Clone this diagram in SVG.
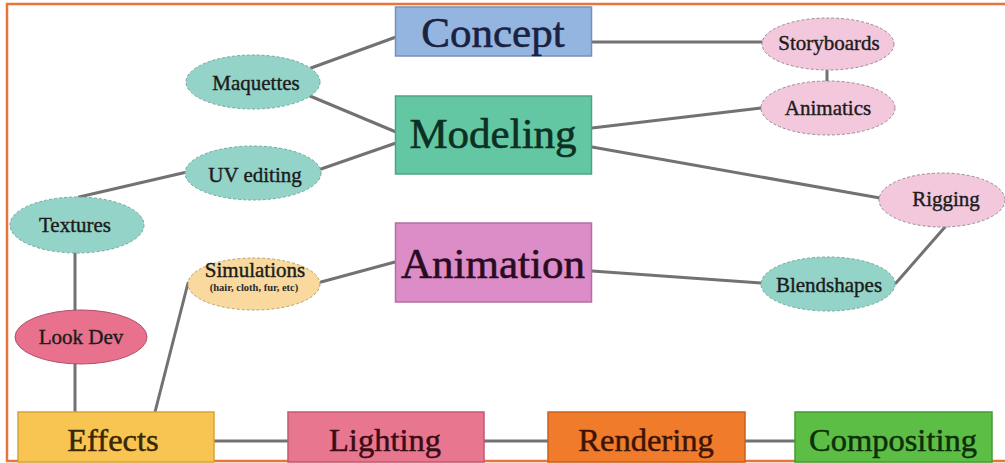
<svg xmlns="http://www.w3.org/2000/svg" width="1005" height="463" viewBox="0 0 1005 463">
<defs>
<style>
  .box { stroke-width: 1.5; }
  .teal { fill: #94d3c8; stroke: #6fa89e; stroke-width: 1; stroke-dasharray: 3 2; }
  .pink { fill: #f3c8dd; stroke: #9a8a92; stroke-width: 1; stroke-dasharray: 3 2; }
  .conn line { stroke: #727272; stroke-width: 3; stroke-linecap: round; }
  .big { font-size: 43px; stroke-width: 0.6; }
  .mid { font-size: 32.5px; stroke-width: 0.5; }
  .lbl { font-size: 21px; fill: #1c1c1c; stroke: #1c1c1c; stroke-width: 0.4; }
</style>
</defs>
<rect x="0" y="0" width="1005" height="463" fill="#ffffff"/>
<path d="M1005,4 H7 V461 H1005" fill="none" stroke="#e8763a" stroke-width="2.5"/>

<g id="connectors" class="conn">
  <line x1="311" y1="68" x2="396" y2="37"/>
  <line x1="310" y1="96" x2="396" y2="132"/>
  <line x1="321" y1="169" x2="396" y2="143"/>
  <line x1="187" y1="172" x2="79" y2="197"/>
  <line x1="592" y1="42" x2="762" y2="42"/>
  <line x1="827" y1="70" x2="827" y2="82"/>
  <line x1="592" y1="128" x2="761" y2="108"/>
  <line x1="592" y1="147" x2="880" y2="198"/>
  <line x1="945" y1="227" x2="896" y2="283"/>
  <line x1="592" y1="271" x2="761" y2="283"/>
  <line x1="395" y1="262" x2="321" y2="282"/>
  <line x1="188" y1="283" x2="155" y2="412"/>
  <line x1="75" y1="252" x2="75" y2="310"/>
  <line x1="75" y1="363" x2="75" y2="412"/>
  <line x1="214" y1="441" x2="288" y2="441"/>
  <line x1="484" y1="441" x2="548" y2="441"/>
  <line x1="745" y1="441" x2="795" y2="441"/>
</g>

<g id="concept">
  <rect class="box" x="395.5" y="7" width="196" height="49" fill="#95b5e1" stroke="#7890b8"/>
  <text class="big" x="493" y="47" text-anchor="middle" fill="#1a2240" stroke="#1a2240" font-family="Liberation Serif">Concept</text>
</g>
<g id="modeling">
  <rect class="box" x="395.5" y="96" width="196" height="78" fill="#64c7a4" stroke="#4ca486"/>
  <text class="big" x="493" y="148" text-anchor="middle" fill="#0c3022" stroke="#0c3022" font-family="Liberation Serif">Modeling</text>
</g>
<g id="animation">
  <rect class="box" x="395.5" y="223" width="196" height="79" fill="#dc8cc7" stroke="#b36ea2"/>
  <text class="big" x="493" y="278" text-anchor="middle" fill="#2a0c22" stroke="#2a0c22" font-family="Liberation Serif">Animation</text>
</g>
<g id="effects">
  <rect class="box" x="18" y="412" width="196" height="50" fill="#f9c552" stroke="#d6a43a"/>
  <text class="mid" x="113" y="451" text-anchor="middle" fill="#382805" stroke="#382805" font-family="Liberation Serif">Effects</text>
</g>
<g id="lighting">
  <rect class="box" x="288" y="412" width="196" height="50" fill="#e9768f" stroke="#c05a73"/>
  <text class="mid" x="385" y="451" text-anchor="middle" fill="#3a0c16" stroke="#3a0c16" font-family="Liberation Serif">Lighting</text>
</g>
<g id="rendering">
  <rect class="box" x="548" y="412" width="197" height="50" fill="#f07b2b" stroke="#c9621c"/>
  <text class="mid" x="646" y="451" text-anchor="middle" fill="#3d1405" stroke="#3d1405" font-family="Liberation Serif">Rendering</text>
</g>
<g id="compositing">
  <rect class="box" x="795" y="412" width="197" height="50" fill="#5cbe45" stroke="#449b32"/>
  <text class="mid" x="893" y="451" text-anchor="middle" fill="#0e2e09" stroke="#0e2e09" font-family="Liberation Serif">Compositing</text>
</g>

<g id="maquettes">
  <ellipse class="teal" cx="253" cy="82" rx="67" ry="27"/>
  <text class="lbl" x="256" y="90" text-anchor="middle" font-family="Liberation Serif">Maquettes</text>
</g>
<g id="uv-editing">
  <ellipse class="teal" cx="253" cy="173" rx="68" ry="27"/>
  <text class="lbl" x="255" y="182" text-anchor="middle" font-family="Liberation Serif">UV editing</text>
</g>
<g id="textures">
  <ellipse class="teal" cx="77" cy="225" rx="67" ry="28"/>
  <text class="lbl" x="75" y="232" text-anchor="middle" font-family="Liberation Serif">Textures</text>
</g>
<g id="look-dev">
  <ellipse cx="81" cy="337" rx="66" ry="27" fill="#e8718e" stroke="#b0506a" stroke-width="1"/>
  <text class="lbl" x="81" y="344" text-anchor="middle" font-family="Liberation Serif">Look Dev</text>
</g>
<g id="simulations">
  <ellipse cx="254" cy="284" rx="66" ry="26" fill="#f9d99e" stroke="#b8a070" stroke-width="1" stroke-dasharray="3 2"/>
  <text class="lbl" x="255" y="277" text-anchor="middle" font-family="Liberation Serif">Simulations</text>
  <text x="254" y="291" text-anchor="middle" font-size="10.5" font-weight="bold" fill="#2a2a2a" font-family="Liberation Serif">(hair, cloth, fur, etc)</text>
</g>
<g id="storyboards">
  <ellipse class="pink" cx="828" cy="44" rx="66" ry="26"/>
  <text class="lbl" x="829" y="50" text-anchor="middle" font-family="Liberation Serif">Storyboards</text>
</g>
<g id="animatics">
  <ellipse class="pink" cx="828" cy="108" rx="67" ry="27"/>
  <text class="lbl" x="828" y="115" text-anchor="middle" font-family="Liberation Serif">Animatics</text>
</g>
<g id="rigging">
  <ellipse class="pink" cx="942" cy="200" rx="63" ry="27"/>
  <text class="lbl" x="946" y="206" text-anchor="middle" font-family="Liberation Serif">Rigging</text>
</g>
<g id="blendshapes">
  <ellipse class="teal" cx="828" cy="284" rx="67" ry="27"/>
  <text class="lbl" x="829" y="292" text-anchor="middle" font-family="Liberation Serif">Blendshapes</text>
</g>
</svg>
